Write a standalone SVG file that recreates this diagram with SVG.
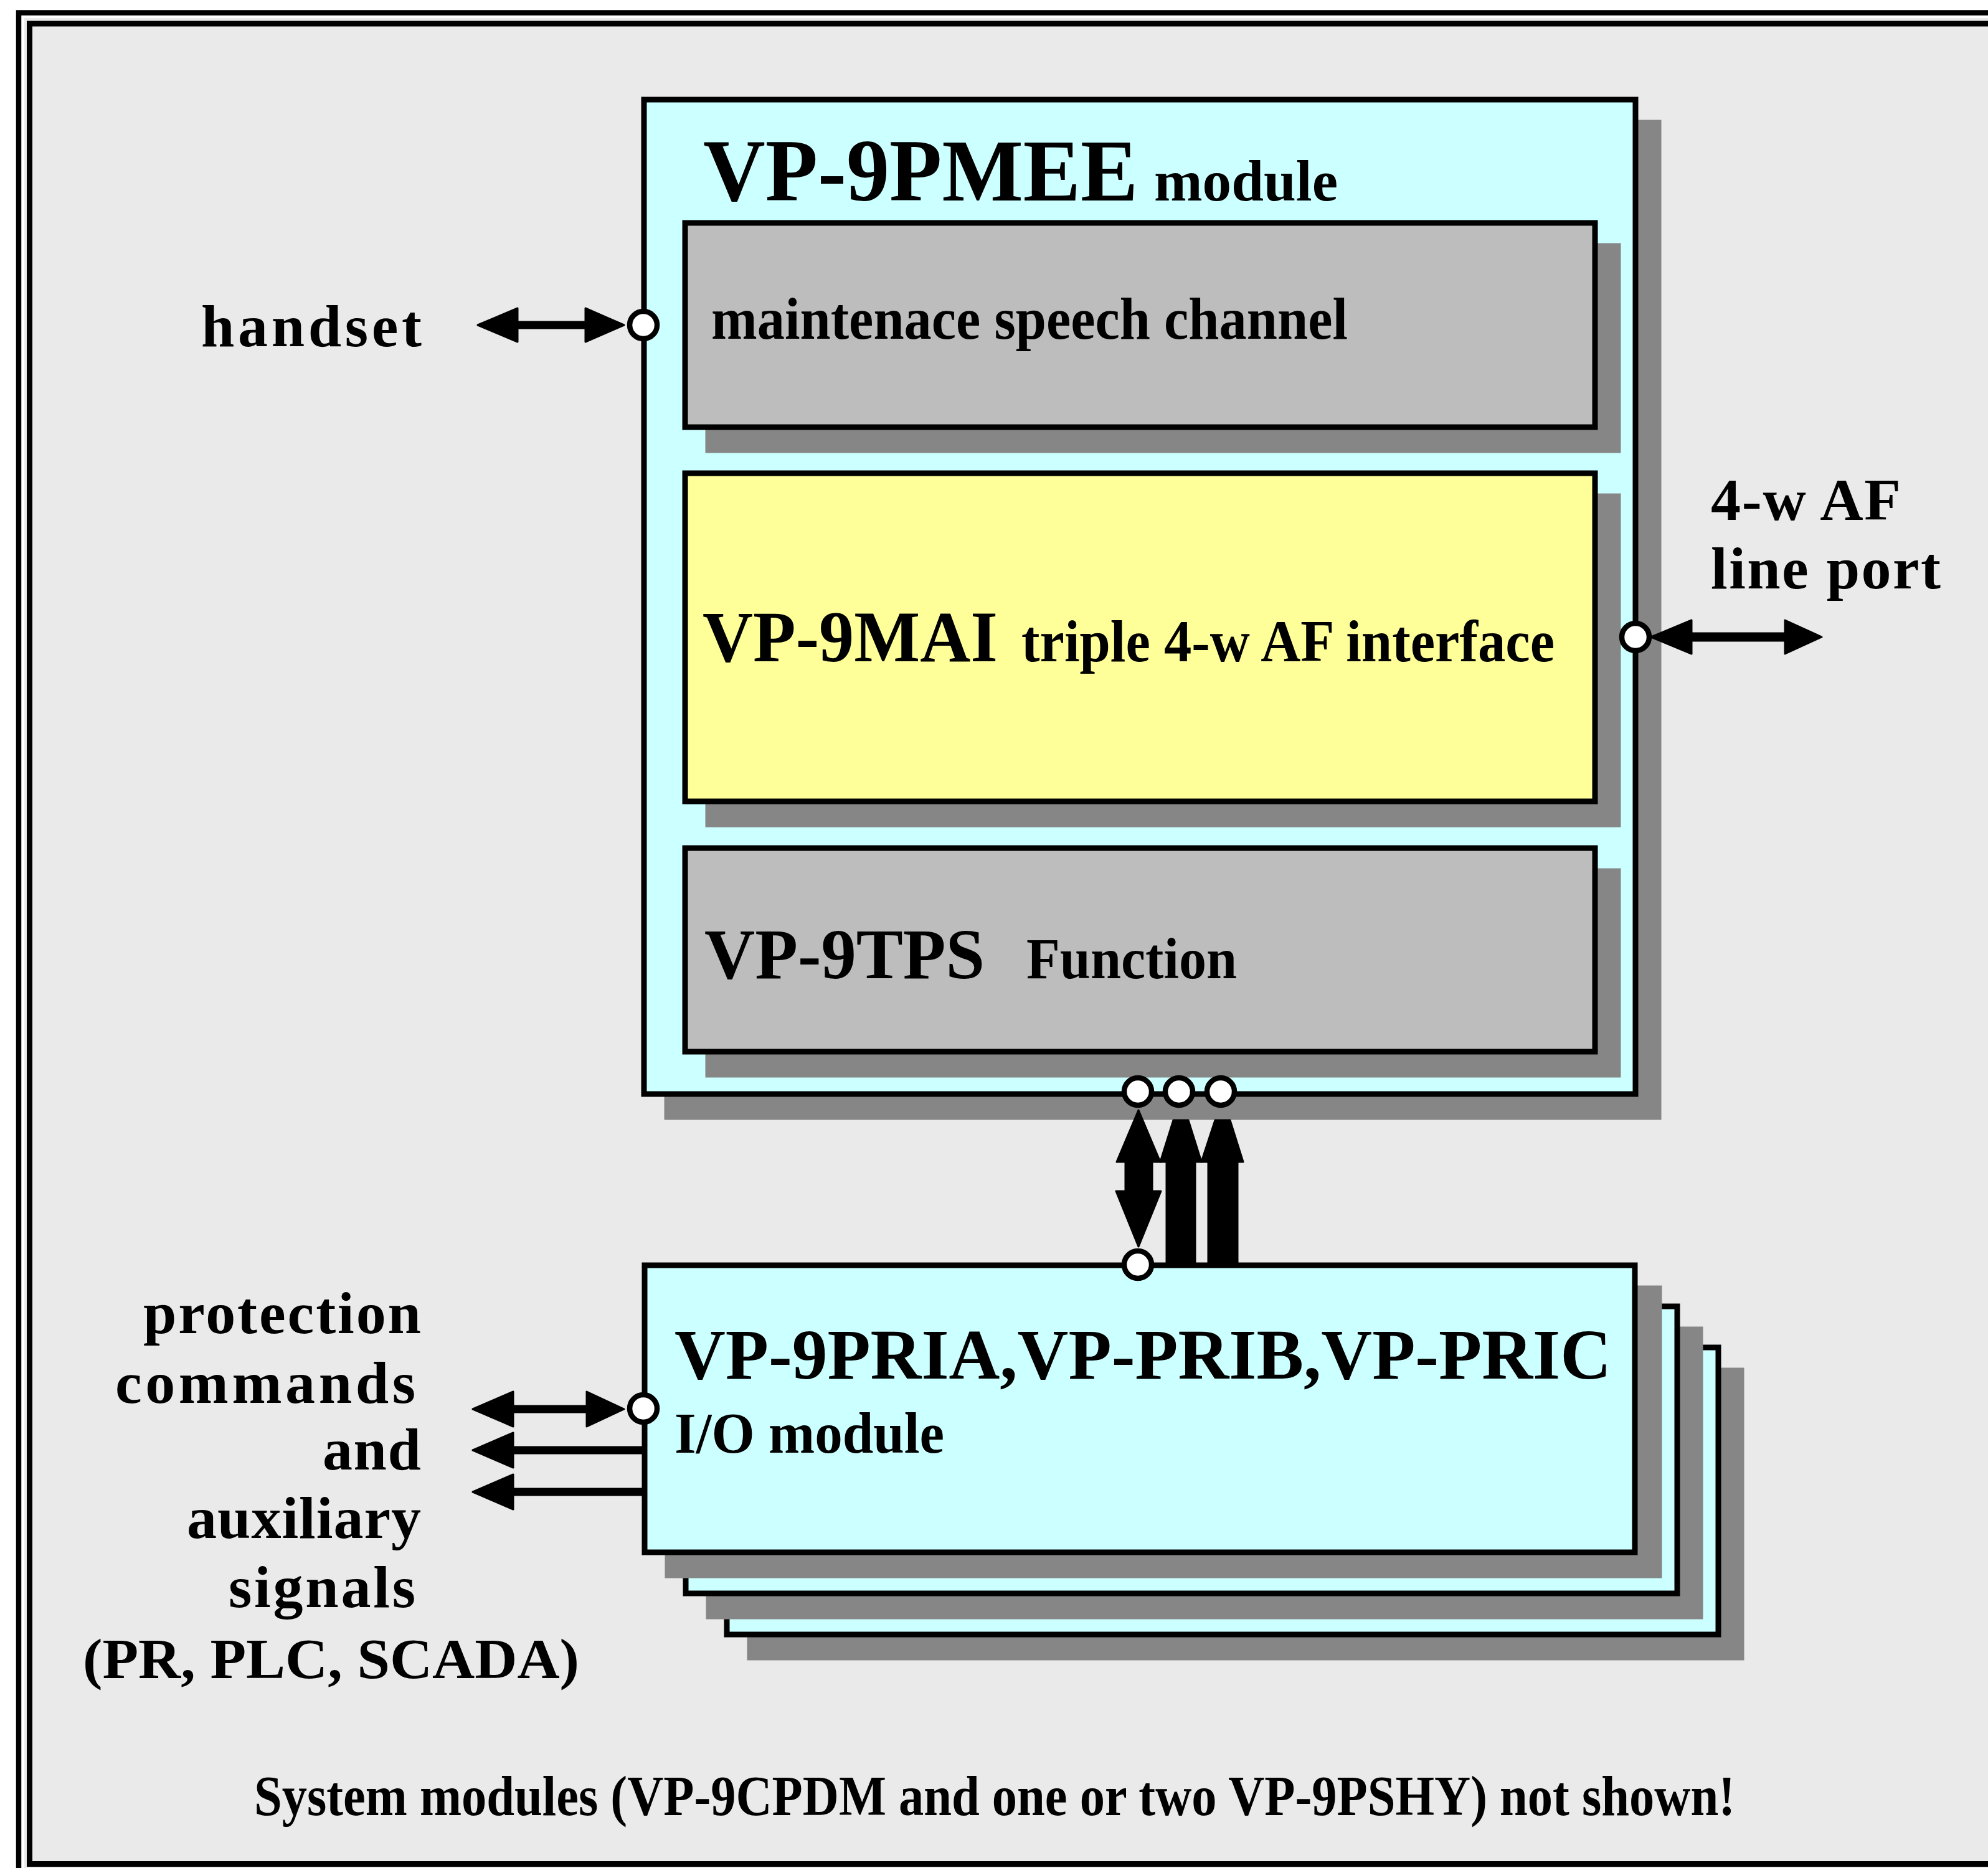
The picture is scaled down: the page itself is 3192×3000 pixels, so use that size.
<svg xmlns="http://www.w3.org/2000/svg" width="3192" height="3000" viewBox="0 0 3192 3000">
<style>
.bx{stroke:#000;stroke-width:9}
.sh{fill:#868686}
.cy{fill:#CCFFFF}
.gr{fill:#BDBDBD}
.ye{fill:#FFFF99}
.t{font-family:"Liberation Serif","Times New Roman",serif;font-weight:bold;fill:#000}
.port{fill:#fff;stroke:#000;stroke-width:8.5}
.ln{stroke:#000;fill:none}
.hd{fill:#000;stroke:#000;stroke-width:3;stroke-linejoin:round}
</style>
<rect x="0" y="0" width="3192" height="3000" fill="#fff"/>
<g id="frame">
<rect x="39" y="29" width="3200" height="3000" fill="#EAEAEA"/>
<rect x="30" y="20.5" width="3200" height="3100" fill="none" stroke="#000" stroke-width="8.5"/>
<rect x="47.5" y="38" width="3200" height="2955.5" fill="none" stroke="#000" stroke-width="9"/>
</g>
<g id="pmee">
<rect class="sh" x="1066.5" y="192.5" width="1601" height="1606"/>
<rect class="bx cy" x="1034" y="160" width="1592" height="1597"/>
<text class="t" x="1129" y="322" font-size="142" textLength="698" lengthAdjust="spacingAndGlyphs">VP-9PMEE</text>
<text class="t" x="1853" y="322" font-size="94" textLength="295" lengthAdjust="spacingAndGlyphs">module</text>
</g>
<g id="maint">
<rect class="sh" x="1132.5" y="390.5" width="1470" height="337"/>
<rect class="bx gr" x="1100" y="358" width="1461" height="328"/>
<text class="t" x="1142" y="544" font-size="96" textLength="1022" lengthAdjust="spacingAndGlyphs">maintenace speech channel</text>
</g>
<g id="mai">
<rect class="sh" x="1132.5" y="792.5" width="1470" height="536"/>
<rect class="bx ye" x="1100" y="760" width="1461" height="527"/>
<text class="t" x="1128" y="1062" font-size="116" textLength="474" lengthAdjust="spacingAndGlyphs">VP-9MAI</text>
<text class="t" x="1640" y="1062" font-size="96" textLength="856" lengthAdjust="spacingAndGlyphs">triple 4-w AF interface</text>
</g>
<g id="tps">
<rect class="sh" x="1132.5" y="1394.5" width="1470" height="336"/>
<rect class="bx gr" x="1100" y="1362" width="1461" height="327"/>
<text class="t" x="1131" y="1571" font-size="115" textLength="450" lengthAdjust="spacingAndGlyphs">VP-9TPS</text>
<text class="t" x="1648" y="1571" font-size="94" textLength="338" lengthAdjust="spacingAndGlyphs">Function</text>
</g>
<g id="io">
<rect class="sh" x="1199.5" y="2196.5" width="1601" height="470"/>
<rect class="bx cy" x="1167" y="2164" width="1592" height="461"/>
<rect class="sh" x="1133.5" y="2130.5" width="1601" height="470"/>
<rect class="bx cy" x="1101" y="2098" width="1592" height="461"/>
<rect class="sh" x="1067.5" y="2064.5" width="1601" height="470"/>
<rect class="bx cy" x="1035" y="2032" width="1590" height="461"/>
<text class="t" x="1083" y="2214" font-size="115" textLength="1504" lengthAdjust="spacingAndGlyphs">VP-9PRIA,VP-PRIB,VP-PRIC</text>
<text class="t" x="1083" y="2333" font-size="94" textLength="433" lengthAdjust="spacingAndGlyphs">I/O module</text>
</g>
<g id="labels">
<text class="t" x="323" y="556" font-size="96" textLength="354" lengthAdjust="spacing">handset</text>
<text class="t" x="2747" y="835" font-size="96" textLength="305" lengthAdjust="spacing">4-w AF</text>
<text class="t" x="2747" y="945" font-size="96" textLength="369" lengthAdjust="spacing">line port</text>
<text class="t" x="230" y="2141" font-size="96" textLength="446" lengthAdjust="spacing">protection</text>
<text class="t" x="185" y="2253" font-size="96" textLength="482" lengthAdjust="spacing">commands</text>
<text class="t" x="518" y="2360" font-size="96" textLength="158" lengthAdjust="spacing">and</text>
<text class="t" x="300" y="2470" font-size="96" textLength="376" lengthAdjust="spacing">auxiliary</text>
<text class="t" x="367" y="2581" font-size="96" textLength="300" lengthAdjust="spacing">signals</text>
<text class="t" x="133" y="2695" font-size="92" textLength="797" lengthAdjust="spacingAndGlyphs">(PR, PLC, SCADA)</text>
</g>
<g id="note">
<text class="t" x="408" y="2915" font-size="90" textLength="2378" lengthAdjust="spacingAndGlyphs">System modules (VP-9CPDM and one or two VP-9PSHY) not shown!</text>
</g>
<g id="connectors">
<line class="ln" x1="829" y1="522" x2="942" y2="522" stroke-width="13"/>
<polygon class="hd" points="767,522 831,495 831,549"/>
<polygon class="hd" points="1002,522 940,495 940,549"/>
<line class="ln" x1="2714" y1="1023" x2="2868" y2="1023" stroke-width="15"/>
<polygon class="hd" points="2651,1023 2716,996 2716,1050"/>
<polygon class="hd" points="2925,1023 2866,996 2866,1050"/>
<line class="ln" x1="822" y1="2263" x2="944" y2="2263" stroke-width="13"/>
<polygon class="hd" points="759,2263 824,2235 824,2291"/>
<polygon class="hd" points="1002,2263 942,2235 942,2291"/>
<line class="ln" x1="822" y1="2329" x2="1035" y2="2329" stroke-width="13"/>
<polygon class="hd" points="759,2329 824,2301 824,2357"/>
<line class="ln" x1="822" y1="2396" x2="1035" y2="2396" stroke-width="13"/>
<polygon class="hd" points="759,2396 824,2368 824,2424"/>
<polygon class="hd" points="1828,1783 1863,1866 1850,1866 1850,1913 1864,1913 1828,2002 1792,1913 1807,1913 1807,1866 1793,1866"/>
<polygon class="hd" points="1884,1799 1908,1799 1929,1866 1919,1866 1919,2032 1873,2032 1873,1866 1863,1866"/>
<polygon class="hd" points="1951,1799 1975,1799 1996,1866 1987,1866 1987,2032 1940,2032 1940,1866 1929,1866"/>
</g>
<g id="ports">
<circle class="port" cx="1033" cy="522" r="22"/>
<circle class="port" cx="2626" cy="1023" r="22"/>
<circle class="port" cx="1827" cy="1753" r="22"/>
<circle class="port" cx="1893" cy="1753" r="22"/>
<circle class="port" cx="1960" cy="1753" r="22"/>
<circle class="port" cx="1827" cy="2031" r="22"/>
<circle class="port" cx="1033" cy="2262" r="22"/>
</g>
</svg>
